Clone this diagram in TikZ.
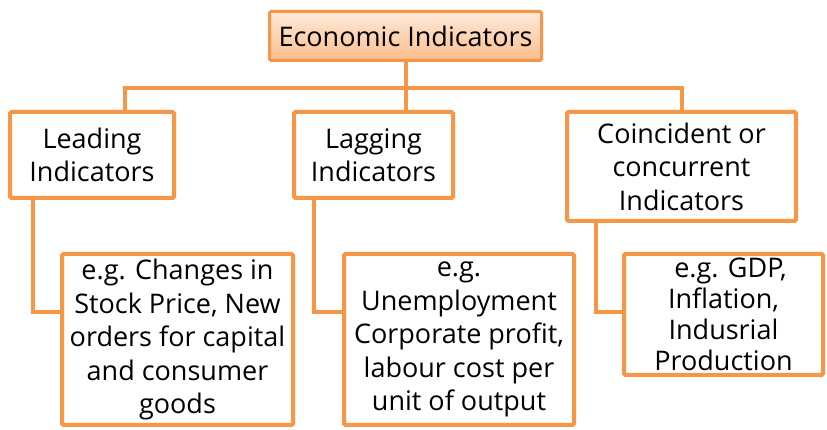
\documentclass[tikz,border=0pt]{standalone}
\usepackage{fontspec}
\setmainfont{Open Sans}
\usetikzlibrary{positioning}
\definecolor{EiOrange}{RGB}{247,150,70}
\definecolor{EiPeachTop}{RGB}{254,234,218}
\definecolor{EiPeachBot}{RGB}{250,190,140}
\tikzset{
  ei/box/.style={
    draw=EiOrange,
    line width=4pt,
    rounded corners=1.5pt,
    fill=white,
    align=center,
    text=black,
    inner sep=1pt,
    font=\fontsize{27}{33.5}\selectfont
  },
  ei/head/.style={
    ei/box,
    line width=3pt,
    top color=EiPeachTop,
    bottom color=EiPeachBot
  },
  ei/link/.style={draw=EiOrange, line width=4pt}
}

\begin{document}
\begin{tikzpicture}[x=1pt,y=1pt]
  \useasboundingbox (0,0) rectangle (827,430);
  % top level
  \node[ei/head,minimum width=272pt,minimum height=49pt] (econ) at (405.5,394) {Economic Indicators};
  % indicator groups
  \node[ei/box,minimum width=164pt,minimum height=86pt] (lead) at (92,275) {Leading\\Indicators};
  \node[ei/box,minimum width=159pt,minimum height=86pt] (lag) at (373.5,275) {Lagging\\Indicators};
  \node[ei/box,minimum width=229pt,minimum height=109pt] (coin) at (681.5,263.5) {Coincident or\\concurrent\\Indicators};
  % examples
  \node[ei/box,minimum width=231pt,minimum height=171pt] (exlead) at (177.5,90.5)
    {e.g. Changes in\\Stock Price, New\\orders for capital\\and consumer\\goods};
  \node[ei/box,minimum width=230pt,minimum height=171pt] (exlag) at (459,90.5)
    {e.g.\\Unemployment\\Corporate profit,\\labour cost per\\unit of output};
  \node[ei/box,minimum width=199pt,minimum height=121pt,font=\fontsize{27}{31}\selectfont] (excoin) at (723.5,115.5)
    {\hspace*{14pt}e.g. GDP,\\Inflation,\\Indusrial\\Production};
  % tree connectors
  \coordinate (bar) at (405.5,342);
  \draw[ei/link] (econ.south) -- (econ.south |- lag.north);
  \draw[ei/link] ([xshift=33pt]lead.north) |- (bar) -| (coin.north);
  \draw[ei/link] ([xshift=25pt]lead.south west) |- ([yshift=27pt]exlead.west);
  \draw[ei/link] ([xshift=22pt]lag.south west) |- ([yshift=27pt]exlag.west);
  \draw[ei/link] ([xshift=31pt]coin.south west) |- ([yshift=2pt]excoin.west);
\end{tikzpicture}
\end{document}
